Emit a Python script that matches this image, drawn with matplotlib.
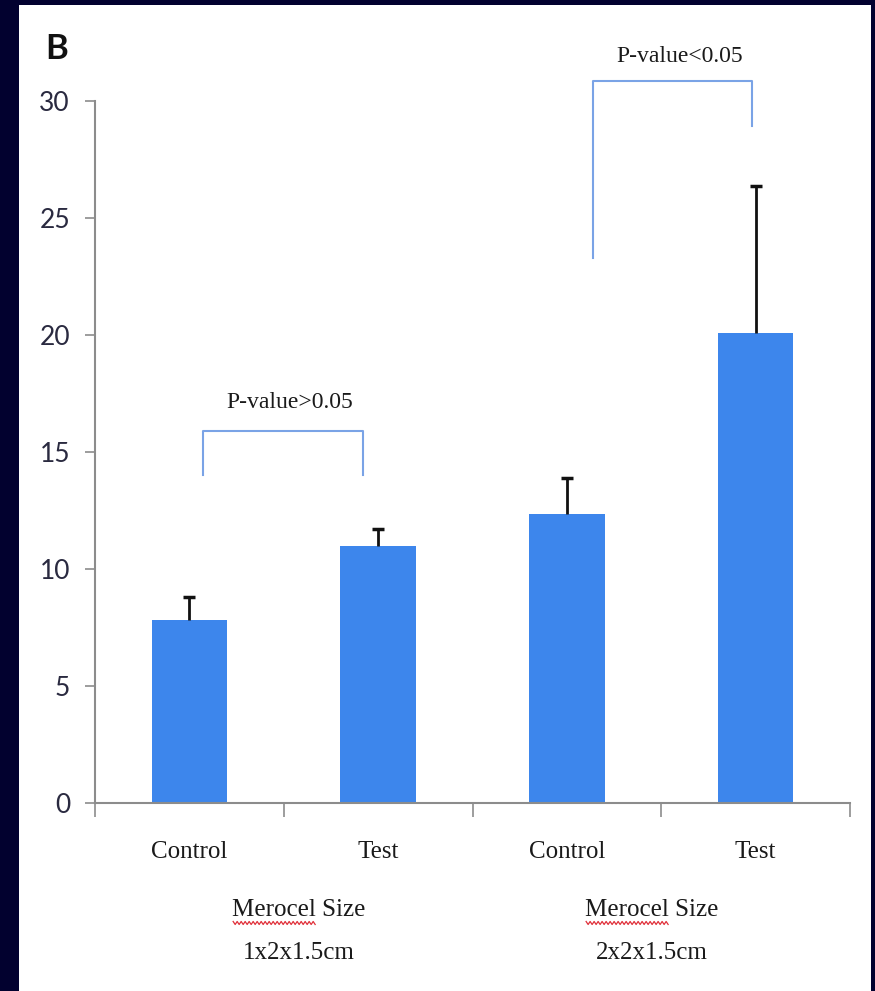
import numpy as np
import matplotlib.pyplot as plt
from matplotlib.patches import Rectangle

# group means and upper error (SD) for each bar
categories = ['Control', 'Test', 'Control', 'Test']
means = [7.8, 11.0, 12.35, 20.1]
errors = [1.0, 0.7, 1.55, 6.25]
group_titles = ['Merocel Size', 'Merocel Size']
group_sizes = ['1x2x1.5cm', '2x2x1.5cm']
pvalues = ['P-value>0.05', 'P-value<0.05']
yticks = [0, 5, 10, 15, 20, 25, 30]

navy = '#02012f'
bar_color = '#3d86ec'
bracket_color = '#7aa3e6'
serif = 'Liberation Serif'

fig = plt.figure(figsize=(8.75, 9.91), dpi=100, facecolor=navy)
# white slide panel
fig.patches.append(Rectangle((19 / 875, 0), (871 - 19) / 875, (991 - 5) / 991,
                             transform=fig.transFigure, facecolor='white',
                             edgecolor='none', zorder=-5))

ax = fig.add_axes([95 / 875, (991 - 803) / 991, 755 / 875, 702 / 991])
ax.set_facecolor('none')

x = np.arange(len(categories))
ax.bar(x, means, width=0.4, color=bar_color, zorder=2)
_, caps, _ = ax.errorbar(x, means, yerr=[np.zeros(len(errors)), errors],
                         fmt='none', ecolor='#111111', elinewidth=2,
                         capsize=4.5, capthick=2.5, zorder=3)
caps[0].set_visible(False)  # only the upper cap is drawn

ax.set_xlim(-0.5, 3.5)
ax.set_ylim(0, 30)
for side in ['top', 'right']:
    ax.spines[side].set_visible(False)
for side in ['left', 'bottom']:
    ax.spines[side].set_color('#8c8c8c')
    ax.spines[side].set_linewidth(1.5)

ax.set_yticks(yticks)
ax.set_yticklabels([str(t) for t in yticks], family='Lato', fontsize=19,
                   color='#2a2a40')
ax.tick_params(axis='y', length=7, width=1.2, color='#8c8c8c', pad=11)

# category boundaries as major ticks, names on minor ticks
ax.set_xticks(np.arange(-0.5, 4, 1.0))
ax.set_xticklabels([])
ax.tick_params(axis='x', which='major', length=10, width=1.2, color='#8c8c8c')
ax.set_xticks(x, minor=True)
ax.set_xticklabels(categories, minor=True, family=serif, fontsize=18,
                   color='#1a1a1a')
ax.tick_params(axis='x', which='minor', length=0, pad=27)

# group labels under the category names
group_x = [0.58, 2.45]
title_texts = []
for gx, title, size in zip(group_x, group_titles, group_sizes):
    t = ax.text(gx, -0.1524, title, transform=ax.get_xaxis_transform(),
                ha='center', va='center', family=serif, fontsize=18,
                color='#1a1a1a')
    title_texts.append(t)
    ax.text(gx, -0.2137, size, transform=ax.get_xaxis_transform(),
            ha='center', va='center', family=serif, fontsize=18,
            color='#1a1a1a')

# significance brackets: (x left, x right, y top, left leg bottom, right leg bottom)
brackets = [(0.07, 0.92, 15.9, 14.0, 14.0), (2.14, 2.98, 30.85, 23.3, 28.95)]
label_pos = [(0.53, 17.1), (2.6, 31.9)]
for (xl, xr, top, bl, br), (tx, ty), p in zip(brackets, label_pos, pvalues):
    ax.plot([xl, xl, xr, xr], [bl, top, top, br], color=bracket_color, lw=1.5,
            clip_on=False, zorder=1)
    ax.text(tx, ty, p, ha='center', va='center', family=serif, fontsize=17,
            color='#1a1a1a', clip_on=False)

fig.text(45 / 875, 1 - 49 / 991, 'B', family='Lato', fontweight='bold',
         fontsize=25, color='#111111', ha='left', va='center')

# red spell-check squiggle under "Merocel"
fig.canvas.draw()
renderer = fig.canvas.get_renderer()
probe = fig.text(0, 0, 'Merocel', family=serif, fontsize=18)
word_w = probe.get_window_extent(renderer).width
probe.remove()
for t in title_texts:
    bb = t.get_window_extent(renderer)
    x0 = bb.x0 + 1
    xs = np.arange(x0, x0 + word_w - 1, 2.0)
    base = bb.y0 - 2
    ys = base + np.where(np.arange(len(xs)) % 2 == 0, 1.5, -1.5)
    fig.lines.append(plt.Line2D(xs / 875, ys / 991, transform=fig.transFigure,
                                color='#e0303a', lw=0.9))

fig.savefig('out.png', dpi=100, facecolor=navy)
